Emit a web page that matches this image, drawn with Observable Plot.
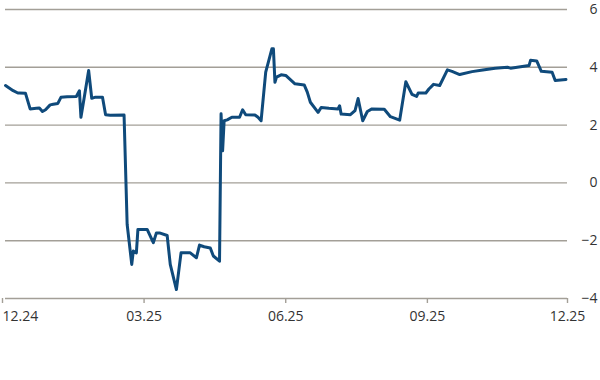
<!DOCTYPE html>
<html><head><meta charset="utf-8">
<script src="https://cdn.jsdelivr.net/npm/d3@7"></script>
<script src="https://cdn.jsdelivr.net/npm/@observablehq/plot@0.6"></script>
<style>body{margin:0;background:#fff}</style>
</head><body><div id="chart"></div>
<script>
const dates = [
"2024-12-01","2024-12-06","2024-12-09","2024-12-10","2024-12-14","2024-12-17","2024-12-21","2024-12-23","2024-12-25","2024-12-27",
"2024-12-30","2025-01-01","2025-01-04","2025-01-06","2025-01-10","2025-01-16","2025-01-18","2025-01-19","2025-01-21","2025-01-24",
"2025-01-26","2025-01-28","2025-02-02","2025-02-04","2025-02-07","2025-02-16","2025-02-18","2025-02-21","2025-02-22","2025-02-24",
"2025-02-25","2025-03-03","2025-03-07","2025-03-09","2025-03-11","2025-03-16","2025-03-18","2025-03-22","2025-03-25","2025-03-31",
"2025-04-04","2025-04-06","2025-04-09","2025-04-13","2025-04-15","2025-04-19","2025-04-20","2025-04-21","2025-04-22","2025-04-24",
"2025-04-27","2025-05-02","2025-05-04","2025-05-06","2025-05-12","2025-05-14","2025-05-16","2025-05-19","2025-05-23","2025-05-24",
"2025-05-25","2025-05-26","2025-05-29","2025-06-01","2025-06-07","2025-06-13","2025-06-15","2025-06-17","2025-06-22","2025-06-24",
"2025-06-29","2025-07-05","2025-07-06","2025-07-07","2025-07-13","2025-07-16","2025-07-18","2025-07-21","2025-07-24","2025-07-27",
"2025-08-04","2025-08-08","2025-08-14","2025-08-18","2025-08-22","2025-08-25","2025-08-26","2025-08-31","2025-09-02","2025-09-05",
"2025-09-09","2025-09-14","2025-09-17","2025-09-22","2025-09-30","2025-10-07","2025-10-15","2025-10-23","2025-10-25","2025-11-06",
"2025-11-07","2025-11-11","2025-11-14","2025-11-21","2025-11-23","2025-11-30"
];
const values = [
3.37,3.19,3.11,3.11,3.10,2.56,2.58,2.59,2.47,2.53,
2.70,2.72,2.75,2.96,2.98,2.99,3.19,2.27,2.91,3.89,
2.93,2.96,2.96,2.36,2.34,2.35,-1.43,-2.82,-2.36,-2.42,
-1.61,-1.61,-2.07,-1.73,-1.73,-1.82,-2.82,-3.69,-2.42,-2.42,
-2.59,-2.15,-2.21,-2.25,-2.53,-2.71,2.39,1.11,2.15,2.18,
2.27,2.27,2.53,2.36,2.35,2.27,2.15,3.83,4.64,4.64,
3.48,3.66,3.74,3.72,3.43,3.39,3.14,2.79,2.44,2.61,
2.58,2.56,2.67,2.38,2.36,2.50,2.92,2.15,2.47,2.56,
2.55,2.29,2.17,3.50,3.06,2.99,3.11,3.11,3.25,3.41,
3.37,3.91,3.86,3.75,3.85,3.91,3.97,4.00,3.97,4.06,
4.24,4.22,3.86,3.83,3.54,3.58
];
const xTicks = ["2024-12-01","2025-03-01","2025-06-01","2025-09-01","2025-12-01"];
const xTickLabels = ["12.24","03.25","06.25","09.25","12.25"];
const yTicks = [-4,-2,0,2,4,6];
const yTickLabels = ["\u22124","\u22122","0","2","4","6"];

const data = dates.map((d,i) => ({date: new Date(d + "T00:00:00Z"), value: values[i]}));
const xTickDates = xTicks.map(d => new Date(d + "T00:00:00Z"));
const xLab = new Map(xTickDates.map((d,i) => [+d, xTickLabels[i]]));
const yLab = new Map(yTicks.map((v,i) => [v, yTickLabels[i]]));

const font = "'Open Sans', sans-serif";
const grid = "#a39f97";
const chart = Plot.plot({
  width: 600,
  height: 380,
  marginLeft: 5,
  marginRight: 33,
  marginTop: 9,
  marginBottom: 82,
  style: {fontFamily: font, fontSize: "14px", color: "#333", background: "#fff"},
  x: {type: "utc", domain: [xTickDates[0], xTickDates[xTickDates.length-1]]},
  y: {domain: [-4, 6]},
  marks: [
    Plot.ruleY(yTicks, {stroke: grid, strokeWidth: 1.4}),
    Plot.axisY(yTicks, {anchor: "right", tickSize: 0, tickPadding: 30, textAnchor: "end", tickFormat: v => yLab.get(v), fontSize: 14, fill: "#333", label: null}),
    Plot.axisX(xTickDates.slice(1), {anchor: "bottom", tickSize: 5, tickPadding: 8, stroke: grid, strokeWidth: 1.4, tickFormat: d => xLab.get(+d), fontSize: 14, fill: "#333", label: null}),
    Plot.axisX(xTickDates.slice(0,1), {anchor: "bottom", tickSize: 5, tickPadding: 8, stroke: grid, strokeWidth: 1.4, tickFormat: d => xLab.get(+d), fontSize: 14, fill: "#333", textAnchor: "start", dx: -3, label: null}),
    Plot.lineY(data, {x: "date", y: "value", stroke: "#0f4a7b", strokeWidth: 3, strokeLinejoin: "round", curve: "linear"})
  ]
});
document.getElementById("chart").appendChild(chart);
</script>
</body></html>
